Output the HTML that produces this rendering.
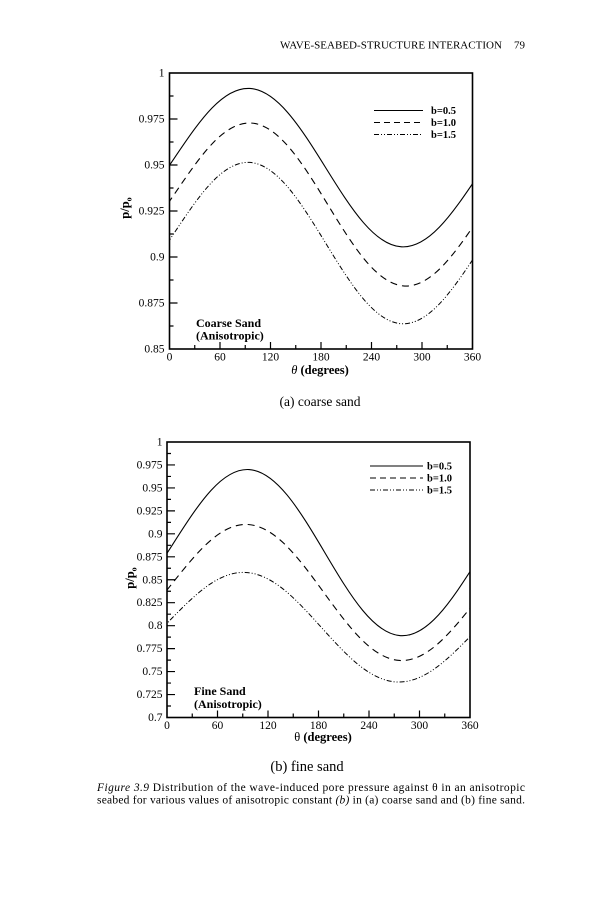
<!DOCTYPE html>
<html>
<head>
<meta charset="utf-8">
<style>
  html,body{margin:0;padding:0;background:#fff;}
  svg{display:block;}
  text{font-family:"Liberation Serif","Times New Roman",serif;fill:#000;}
</style>
</head>
<body>
<svg width="600" height="900" viewBox="0 0 600 900" xmlns="http://www.w3.org/2000/svg">
  <defs>
    <clipPath id="c1"><rect x="169.5" y="73" width="303" height="276"/></clipPath>
    <clipPath id="c2"><rect x="167" y="442" width="303" height="275.5"/></clipPath>
  </defs>

  <!-- Header -->
  <text x="280" y="48.5" font-size="11" textLength="222" lengthAdjust="spacingAndGlyphs">WAVE-SEABED-STRUCTURE INTERACTION</text>
  <text x="514" y="48.5" font-size="11">79</text>

  <!-- ============ TOP CHART ============ -->
  <g clip-path="url(#c1)" fill="none" stroke="#000">
    <path d="M-45,-0.7071 C-30,-0.5220 -15,-0.2618 0,0 C15,0.2618 30,0.5220 45,0.7071 C60,0.8922 75,1 90,1 C105,1 120,0.8922 135,0.7071 C150,0.5220 165,0.2618 180,0 C195,-0.2618 210,-0.5220 225,-0.7071 C240,-0.8922 255,-1 270,-1 C285,-1 300,-0.8922 315,-0.7071 C330,-0.5220 345,-0.2618 360,0 C375,0.2618 390,0.5220 405,0.7071" transform="matrix(0.8417,0.05112,0,-74.59,174.13,158.44)" vector-effect="non-scaling-stroke" stroke-width="1.1"/>
    <path d="M-45,-0.7071 C-30,-0.5220 -15,-0.2618 0,0 C15,0.2618 30,0.5220 45,0.7071 C60,0.8922 75,1 90,1 C105,1 120,0.8922 135,0.7071 C150,0.5220 165,0.2618 180,0 C195,-0.2618 210,-0.5220 225,-0.7071 C240,-0.8922 255,-1 270,-1 C285,-1 300,-0.8922 315,-0.7071 C330,-0.5220 345,-0.2618 360,0 C375,0.2618 390,0.5220 405,0.7071" transform="matrix(0.8417,0.07257,0,-74.87,176.23,191.45)" vector-effect="non-scaling-stroke" stroke-width="1.1" stroke-dasharray="7,5"/>
    <path d="M-45,-0.7071 C-30,-0.5220 -15,-0.2618 0,0 C15,0.2618 30,0.5220 45,0.7071 C60,0.8922 75,1 90,1 C105,1 120,0.8922 135,0.7071 C150,0.5220 165,0.2618 180,0 C195,-0.2618 210,-0.5220 225,-0.7071 C240,-0.8922 255,-1 270,-1 C285,-1 300,-0.8922 315,-0.7071 C330,-0.5220 345,-0.2618 360,0 C375,0.2618 390,0.5220 405,0.7071" transform="matrix(0.8417,0.0552,0,-75.68,174.13,233.14)" vector-effect="non-scaling-stroke" stroke-width="1" stroke-dasharray="5,2,1,2,1,2"/>
  </g>

  <rect x="169.5" y="73" width="303" height="276" fill="none" stroke="#000" stroke-width="1.6"/>
  <path fill="none" stroke="#000" stroke-width="1.2" d="
    M169.5,119h8 M169.5,165h8 M169.5,211h8 M169.5,257h8 M169.5,303h8
    M169.5,96h4 M169.5,142h4 M169.5,188h4 M169.5,234h4 M169.5,280h4 M169.5,326h4
    M220,349v-7 M270.5,349v-7 M321,349v-7 M371.5,349v-7 M422,349v-7
    M194.75,349v-4 M245.25,349v-4 M295.75,349v-4 M346.25,349v-4 M396.75,349v-4 M447.25,349v-4"/>

  <g font-size="11.5" text-anchor="end">
    <text x="164.5" y="76.5">1</text>
    <text x="164.5" y="122.5">0.975</text>
    <text x="164.5" y="168.5">0.95</text>
    <text x="164.5" y="214.5">0.925</text>
    <text x="164.5" y="260.5">0.9</text>
    <text x="164.5" y="306.5">0.875</text>
    <text x="164.5" y="352.5">0.85</text>
  </g>
  <g font-size="11.5" text-anchor="middle">
    <text x="169.5" y="360.5">0</text>
    <text x="220" y="360.5">60</text>
    <text x="270.5" y="360.5">120</text>
    <text x="321" y="360.5">180</text>
    <text x="371.5" y="360.5">240</text>
    <text x="422" y="360.5">300</text>
    <text x="472.5" y="360.5">360</text>
  </g>
  <text x="320" y="374" font-size="12.5" font-weight="bold" text-anchor="middle"><tspan font-style="italic" font-weight="normal">θ</tspan> (degrees)</text>
  <text transform="translate(129,208) rotate(-90)" font-size="12.5" font-weight="bold" text-anchor="middle">p/p<tspan font-size="8" dy="2.5">o</tspan></text>

  <!-- legend top -->
  <g fill="none" stroke="#000" stroke-width="1">
    <path d="M374,110.5H423"/>
    <path d="M374,122.5H423" stroke-dasharray="6,4"/>
    <path d="M374,134.5H423" stroke-dasharray="5,2,1,2,1,2"/>
  </g>
  <g font-size="10.5" font-weight="bold">
    <text x="431" y="114">b=0.5</text>
    <text x="431" y="126">b=1.0</text>
    <text x="431" y="138">b=1.5</text>
  </g>

  <text x="196" y="327" font-size="12" font-weight="bold">Coarse Sand</text>
  <text x="196" y="339.5" font-size="12" font-weight="bold">(Anisotropic)</text>

  <text x="320" y="406" font-size="13.5" text-anchor="middle">(a) coarse sand</text>

  <!-- ============ BOTTOM CHART ============ -->
  <g clip-path="url(#c2)" fill="none" stroke="#000">
    <path d="M-45,-0.7071 C-30,-0.5220 -15,-0.2618 0,0 C15,0.2618 30,0.5220 45,0.7071 C60,0.8922 75,1 90,1 C105,1 120,0.8922 135,0.7071 C150,0.5220 165,0.2618 180,0 C195,-0.2618 210,-0.5220 225,-0.7071 C240,-0.8922 255,-1 270,-1 C285,-1 300,-0.8922 315,-0.7071 C330,-0.5220 345,-0.2618 360,0 C375,0.2618 390,0.5220 405,0.7071" transform="matrix(0.8417,0.05102,0,-78.45,173.31,543.42)" vector-effect="non-scaling-stroke" stroke-width="1.1"/>
    <path d="M-45,-0.7071 C-30,-0.5220 -15,-0.2618 0,0 C15,0.2618 30,0.5220 45,0.7071 C60,0.8922 75,1 90,1 C105,1 120,0.8922 135,0.7071 C150,0.5220 165,0.2618 180,0 C195,-0.2618 210,-0.5220 225,-0.7071 C240,-0.8922 255,-1 270,-1 C285,-1 300,-0.8922 315,-0.7071 C330,-0.5220 345,-0.2618 360,0 C375,0.2618 390,0.5220 405,0.7071" transform="matrix(0.8417,0.05077,0,-63.41,172.30,583.35)" vector-effect="non-scaling-stroke" stroke-width="1.1" stroke-dasharray="7,5"/>
    <path d="M-45,-0.7071 C-30,-0.5220 -15,-0.2618 0,0 C15,0.2618 30,0.5220 45,0.7071 C60,0.8922 75,1 90,1 C105,1 120,0.8922 135,0.7071 C150,0.5220 165,0.2618 180,0 C195,-0.2618 210,-0.5220 225,-0.7071 C240,-0.8922 255,-1 270,-1 C285,-1 300,-0.8922 315,-0.7071 C330,-0.5220 345,-0.2618 360,0 C375,0.2618 390,0.5220 405,0.7071" transform="matrix(0.8417,0.03725,0,-51.42,169.69,620.51)" vector-effect="non-scaling-stroke" stroke-width="1" stroke-dasharray="5,2,1,2,1,2"/>
  </g>

  <rect x="167" y="442" width="303" height="275.5" fill="none" stroke="#000" stroke-width="1.6"/>
  <path fill="none" stroke="#000" stroke-width="1.2" d="
    M167,464.96h8 M167,487.92h8 M167,510.88h8 M167,533.83h8 M167,556.79h8 M167,579.75h8
    M167,602.71h8 M167,625.67h8 M167,648.63h8 M167,671.58h8 M167,694.54h8
    M167,453.48h4 M167,476.44h4 M167,499.4h4 M167,522.35h4 M167,545.31h4 M167,568.27h4
    M167,591.23h4 M167,614.19h4 M167,637.15h4 M167,660.1h4 M167,683.06h4 M167,706.02h4
    M217.5,717.5v-7 M268,717.5v-7 M318.5,717.5v-7 M369,717.5v-7 M419.5,717.5v-7
    M192.25,717.5v-4 M242.75,717.5v-4 M293.25,717.5v-4 M343.75,717.5v-4 M394.25,717.5v-4 M444.75,717.5v-4"/>

  <g font-size="11.5" text-anchor="end">
    <text x="162.5" y="445.5">1</text>
    <text x="162.5" y="468.5">0.975</text>
    <text x="162.5" y="491.4">0.95</text>
    <text x="162.5" y="514.4">0.925</text>
    <text x="162.5" y="537.3">0.9</text>
    <text x="162.5" y="560.3">0.875</text>
    <text x="162.5" y="583.3">0.85</text>
    <text x="162.5" y="606.2">0.825</text>
    <text x="162.5" y="629.2">0.8</text>
    <text x="162.5" y="652.1">0.775</text>
    <text x="162.5" y="675.1">0.75</text>
    <text x="162.5" y="698">0.725</text>
    <text x="162.5" y="721">0.7</text>
  </g>
  <g font-size="11.5" text-anchor="middle">
    <text x="167" y="729">0</text>
    <text x="217.5" y="729">60</text>
    <text x="268" y="729">120</text>
    <text x="318.5" y="729">180</text>
    <text x="369" y="729">240</text>
    <text x="419.5" y="729">300</text>
    <text x="470" y="729">360</text>
  </g>
  <text x="323" y="741" font-size="12.5" font-weight="bold" text-anchor="middle"><tspan font-weight="normal">θ</tspan> (degrees)</text>
  <text transform="translate(134,578) rotate(-90)" font-size="12.5" font-weight="bold" text-anchor="middle">p/p<tspan font-size="8" dy="2.5">o</tspan></text>

  <!-- legend bottom -->
  <g fill="none" stroke="#000" stroke-width="1">
    <path d="M370,466H423"/>
    <path d="M370,478H423" stroke-dasharray="6,4"/>
    <path d="M370,490H423" stroke-dasharray="5,2,1,2,1,2"/>
  </g>
  <g font-size="10.5" font-weight="bold">
    <text x="427" y="469.5">b=0.5</text>
    <text x="427" y="481.5">b=1.0</text>
    <text x="427" y="493.5">b=1.5</text>
  </g>

  <text x="194" y="695" font-size="12" font-weight="bold">Fine Sand</text>
  <text x="194" y="708" font-size="12" font-weight="bold">(Anisotropic)</text>

  <text x="307" y="771" font-size="14.5" text-anchor="middle">(b) fine sand</text>

  <!-- caption -->
  <text x="97" y="791" font-size="11.5" textLength="428" lengthAdjust="spacing"><tspan font-style="italic">Figure 3.9</tspan> Distribution of the wave-induced pore pressure against θ in an anisotropic</text>
  <text x="97" y="803.5" font-size="11.5" textLength="428" lengthAdjust="spacing">seabed for various values of anisotropic constant <tspan font-style="italic">(b)</tspan> in (a) coarse sand and (b) fine sand.</text>
</svg>
</body>
</html>
